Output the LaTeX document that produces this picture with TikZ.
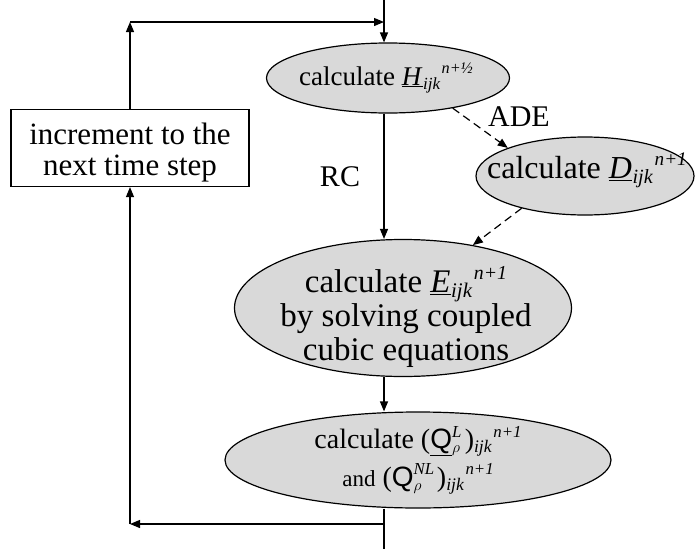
\documentclass[tikz,border=0pt]{standalone}
\usepackage{fontspec}
\setmainfont{Liberation Serif}
\setsansfont{Liberation Sans}
\newcommand\lo[1]{\raisebox{-0.14em}{\scalebox{0.63}{#1}}}
\newcommand\hi[1]{\raisebox{0.42em}{\scalebox{0.6}{#1}}}
\newcommand\tensr[3]{\underline{\textit{#1}}\kern0.02em\lo{\textit{#2}}\kern0.05em\hi{\textit{#3}}}
\usetikzlibrary{shapes.geometric,arrows.meta}
\begin{document}
\begin{tikzpicture}[x=1pt,y=-1pt,line width=1.2pt,
  >={Triangle[length=10pt,width=8pt]},
  oval/.style={ellipse,draw,fill=gray!30,inner sep=0pt},
  fs/.style={font=\fontsize{#1}{#1}\selectfont},
  dsh/.style={dash pattern=on 8pt off 5pt}]
\useasboundingbox (0,0) rectangle (699,549);
\node[oval,minimum width=243pt,minimum height=70pt,
  label={[fs=27,xshift=-2pt]center:calculate \tensr{H}{ijk}{n+½}}] (H) at (388,78) {};
\node[oval,minimum width=218pt,minimum height=78pt,
  label={[fs=32,xshift=2pt,yshift=6pt]center:calculate \tensr{D}{ijk}{n+1}}] (D) at (585,176) {};
\node[oval,minimum width=337pt,minimum height=137pt,
  label={[font=\fontsize{33}{34}\selectfont,align=center,xshift=3pt,yshift=-9pt]center:calculate \tensr{E}{ijk}{n+1}\\by solving coupled\\cubic equations}] (E) at (403,308) {};
\node[oval,minimum width=386pt,minimum height=96pt,
  label={[fs=28,align=center,yshift=0pt]center:calculate (\underline{\textsf{Q}}\rlap{\lo{$\rho$}}\hi{\textit{L}}\kern0.12em)\lo{\textit{ijk}}\kern0.05em\hi{\textit{n+1}}\\[6pt]{\fontsize{23}{26}\selectfont and} (\textsf{Q}\rlap{\lo{$\rho$}}\hi{\textit{NL}}\kern0.1em)\lo{\textit{ijk}}\kern0.05em\hi{\textit{n+1}}}] (Q) at (418,460) {};
\node[draw,minimum width=238pt,minimum height=77pt,inner sep=0pt,
  label={[fs=31,align=center,yshift=-5pt]center:increment to the\\next time step}] (B) at (130,148) {};
\node[fs=30] (rc) at (340,177) {RC};
\node[fs=30] (ade) at (519,117) {ADE};
\coordinate (T) at (384,0);
\coordinate (TL) at (130,22);
\coordinate (TR) at (384,22);
\coordinate (BOT) at (384,549);
\coordinate (BR) at (384,524);
\coordinate (BL) at (130,524);
\draw[->] (T) -- (T |- H.north);
\draw[->] (B) -- (TL);
\draw[->] (TL) -- (TR);
\draw[->] (H.south -| T) -- (E.north -| T);
\draw[->] (E.south -| T) -- (Q.north -| T);
\draw[dsh,->] (H.-25) -- (D.160);
\draw[dsh,->] (D.-153) -- (E.42);
\draw (Q.south -| T) -- (BOT);
\draw[->] (BR) -- (BL);
\draw[->] (BL) -- (B);
\end{tikzpicture}
\end{document}
